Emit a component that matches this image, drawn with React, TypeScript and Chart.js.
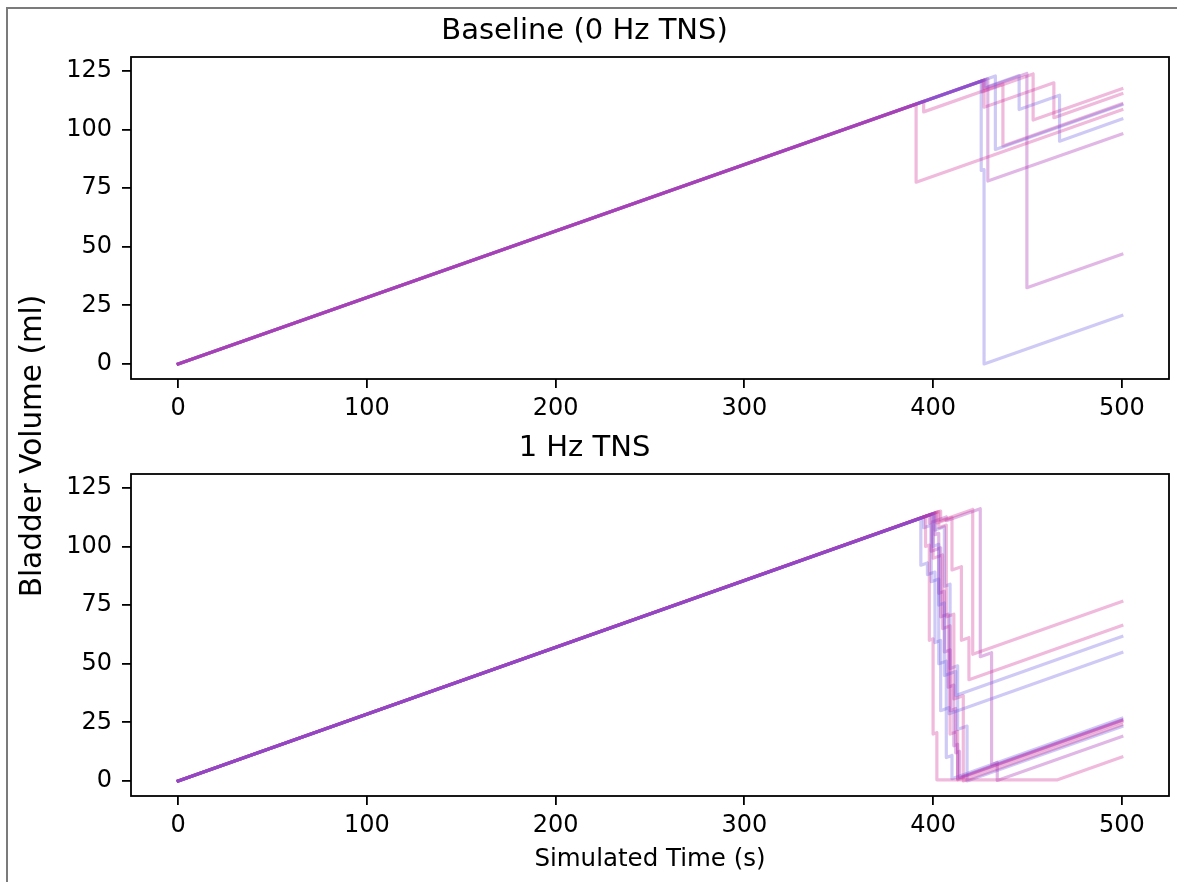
import React, { useEffect, useRef } from "react";
import { Chart, registerables } from "chart.js";

Chart.register(...registerables);

// ---------- text ----------
const titleTop = "Baseline (0 Hz TNS)";
const titleBottom = "1 Hz TNS";
const xLabel = "Simulated Time (s)";
const yLabel = "Bladder Volume (ml)";

// ---------- axes ----------
const xTicks = [0, 100, 200, 300, 400, 500];
const yTicks = [0, 25, 50, 75, 100, 125];
const xMin = -25;
const xMax = 525;
const yMin = -6.4;
const yMax = 130.9;

// ---------- Baseline (0 Hz TNS) runs: [time (s), volume (ml)] ----------
const base1 = [[0, 0], [391, 110.8], [391, 77.5], [500, 108.4]];
const base2 = [[0, 0], [425.5, 120.6], [425.5, 82.5], [427, 82.9], [427, 0], [500, 20.7]];
const base3 = [[0, 0], [429, 121.6], [429, 78], [500, 98.1]];
const base4 = [[0, 0], [433, 122.8], [433, 91.5], [500, 110.5]];
const base5 = [[0, 0], [395, 112], [395, 107.5], [437, 119.4], [437, 93], [500, 110.9]];
const base6 = [[0, 0], [427, 121], [427, 117.5], [449.7, 123.9], [449.7, 32.5], [500, 46.8]];
const base7 = [[0, 0], [428, 121.3], [428, 118], [445.6, 123], [445.6, 108.5], [467, 114.6], [467, 95], [500, 104.4]];
const base8 = [[0, 0], [426, 120.8], [426, 116], [453, 123.7], [453, 104], [500, 117.3]];
const base9 = [[0, 0], [427, 121], [427, 109.5], [464, 119.9], [464, 105], [500, 115.2]];

// ---------- 1 Hz TNS runs: [time (s), volume (ml)] ----------
const tns1 = [[0, 0], [393.5, 112], [393.5, 92], [397, 93], [397, 88], [401, 89.1], [401, 59], [404, 59.9], [404, 30], [408.5, 31.3], [408.5, 28.7], [500, 54.8]];
const tns2 = [[0, 0], [400, 114], [400, 100], [403, 100.9], [403, 75], [406, 75.9], [406, 45], [412, 46.7], [412, 36.5], [500, 61.6]];
const tns3 = [[0, 0], [404, 115.1], [404, 111], [421, 115.8], [421, 54], [500, 76.5]];
const tns4 = [[0, 0], [402, 114.6], [402, 110], [410, 112.3], [410, 90], [415, 91.4], [415, 60], [419, 61.1], [419, 43.2], [500, 66.3]];
const tns5 = [[0, 0], [401, 114.3], [401, 105], [403, 105.6], [403, 80], [406, 80.9], [406, 55], [409, 55.9], [409, 30], [412, 30.9], [412, 12], [414, 12.6], [414, 1.5], [500, 26]];
const tns6 = [[0, 0], [399, 113.7], [399, 98], [404, 99.4], [404, 70], [408, 71.1], [408, 40], [411, 40.9], [411, 15], [413, 15.6], [413, 1], [500, 25.8]];
const tns7 = [[0, 0], [400, 114], [400, 95], [405, 96.4], [405, 65], [409, 66.1], [409, 20], [413, 21.1], [413, 0.5], [500, 25.3]];
const tns8 = [[0, 0], [396, 112.9], [396, 100], [398, 100.6], [398, 60], [400, 60.6], [400, 20], [402, 20.6], [402, 0.5], [466, 0.5], [500, 10.2]];
const tns9 = [[0, 0], [398, 113.4], [398, 110], [407, 112.6], [407, 111], [425, 116.1], [425, 53], [431, 54.7], [431, 7], [434, 7.9], [434, 0.2], [500, 19]];
const tns10 = [[0, 0], [395, 112.5], [395, 108], [399, 109.1], [399, 85], [403, 86.1], [403, 50], [407, 51.1], [407, 10], [410, 10.9], [410, 1], [500, 26.7]];
const tns11 = [[0, 0], [403, 114.9], [403, 108], [407, 109.1], [407, 70], [411, 71.1], [411, 35], [416, 36.4], [416, 0], [500, 24]];
const tns12 = [[0, 0], [401, 114.3], [401, 107], [406, 108.4], [406, 83], [409, 83.9], [409, 48], [413, 49.1], [413, 22], [418, 23.4], [418, 0], [500, 23.2]];

const baselineRuns = [base1, base2, base3, base4, base5, base6, base7, base8, base9];
const baselineTones = ["pink", "blue", "violet", "blue", "pink", "violet", "blue", "pink", "pink"];
const tnsRuns = [tns1, tns2, tns3, tns4, tns5, tns6, tns7, tns8, tns9, tns10, tns11, tns12];
const tnsTones = ["blue", "blue", "pink", "pink", "violet", "violet", "pink", "pink", "violet", "blue", "pink", "blue"];

// ---------- styles ----------
const toneColors: Record<string, string> = {
  blue: "rgba(110, 90, 225, 0.33)",
  violet: "rgba(165, 40, 175, 0.33)",
  pink: "rgba(205, 45, 150, 0.33)",
};
const FONT = "'DejaVu Sans', 'Liberation Sans', sans-serif";

const spinePlugin = {
  id: "spines",
  afterDatasetsDraw(chart: any) {
    const { ctx, chartArea: a } = chart;
    ctx.save();
    ctx.strokeStyle = "#000";
    ctx.lineWidth = 1.8;
    ctx.strokeRect(a.left, a.top, a.right - a.left, a.bottom - a.top);
    ctx.restore();
  },
};

function makeConfig(
  runs: number[][][],
  tones: string[],
  title: string,
  padTop: number,
  xAxisHeight: number,
  showXLabel: boolean
): any {
  return {
    type: "line",
    data: {
      datasets: runs.map((run, i) => ({
        data: run.map(([x, y]) => ({ x, y })),
        borderColor: toneColors[tones[i]],
        borderWidth: 3.2,
        pointRadius: 0,
        fill: false,
        tension: 0,
        borderJoinStyle: "round",
        borderCapStyle: "square",
      })),
    },
    options: {
      responsive: false,
      animation: false,
      devicePixelRatio: 1,
      events: [],
      layout: { padding: { top: padTop, right: 8, left: 0, bottom: 0 } },
      plugins: {
        legend: { display: false },
        tooltip: { enabled: false },
        title: {
          display: true,
          text: title,
          color: "#000",
          font: { family: FONT, size: 29, weight: "normal", lineHeight: 1.2 },
          padding: { top: 0, bottom: 8.3 },
        },
      },
      scales: {
        x: {
          type: "linear",
          min: xMin,
          max: xMax,
          afterBuildTicks: (s: any) => {
            s.ticks = xTicks.map((v) => ({ value: v }));
          },
          afterFit: (s: any) => {
            s.height = xAxisHeight;
          },
          grid: {
            display: true,
            drawOnChartArea: false,
            drawTicks: true,
            tickLength: 9,
            color: "#000",
            lineWidth: 1.8,
          },
          border: { display: false },
          ticks: {
            color: "#000",
            font: { family: FONT, size: 24 },
            padding: 6,
            maxRotation: 0,
            autoSkip: false,
          },
          title: {
            display: showXLabel,
            text: xLabel,
            color: "#000",
            font: { family: FONT, size: 24.5, lineHeight: 1.2 },
            padding: { top: 0, bottom: 7.3 },
          },
        },
        y: {
          type: "linear",
          min: yMin,
          max: yMax,
          afterBuildTicks: (s: any) => {
            s.ticks = yTicks.map((v) => ({ value: v }));
          },
          afterFit: (s: any) => {
            s.width = 131;
          },
          grid: {
            display: true,
            drawOnChartArea: false,
            drawTicks: true,
            tickLength: 9,
            color: "#000",
            lineWidth: 1.8,
          },
          border: { display: false },
          ticks: {
            color: "#000",
            font: { family: FONT, size: 24 },
            padding: 10,
            autoSkip: false,
          },
        },
      },
    },
    plugins: [spinePlugin],
  };
}

export default function App() {
  const topRef = useRef<HTMLCanvasElement | null>(null);
  const bottomRef = useRef<HTMLCanvasElement | null>(null);

  useEffect(() => {
    const c1 = new Chart(
      topRef.current as HTMLCanvasElement,
      makeConfig(baselineRuns, baselineTones, titleTop, 13.9, 41, false)
    );
    const c2 = new Chart(
      bottomRef.current as HTMLCanvasElement,
      makeConfig(tnsRuns, tnsTones, titleBottom, 10.9, 86, true)
    );
    return () => {
      c1.destroy();
      c2.destroy();
    };
  }, []);

  return (
    <div
      style={{
        position: "absolute",
        left: 0,
        top: 0,
        width: 1177,
        height: 882,
        background: "#fff",
        overflow: "hidden",
      }}
    >
      <canvas
        ref={topRef}
        width={1177}
        height={420}
        style={{ position: "absolute", left: 0, top: 0, width: 1177, height: 420 }}
      />
      <canvas
        ref={bottomRef}
        width={1177}
        height={462}
        style={{ position: "absolute", left: 0, top: 420, width: 1177, height: 462 }}
      />
      <div
        style={{
          position: "absolute",
          left: 32,
          top: 446,
          transform: "translate(-50%, -50%) rotate(-90deg)",
          whiteSpace: "nowrap",
          fontFamily: FONT,
          fontSize: 29.5,
          lineHeight: 1.2,
          color: "#000",
        }}
      >
        {yLabel}
      </div>
      <div
        style={{
          position: "absolute",
          left: 6,
          top: 7,
          width: 1200,
          height: 900,
          borderLeft: "2px solid #7b7b7b",
          borderTop: "2px solid #7b7b7b",
          pointerEvents: "none",
        }}
      />
    </div>
  );
}
